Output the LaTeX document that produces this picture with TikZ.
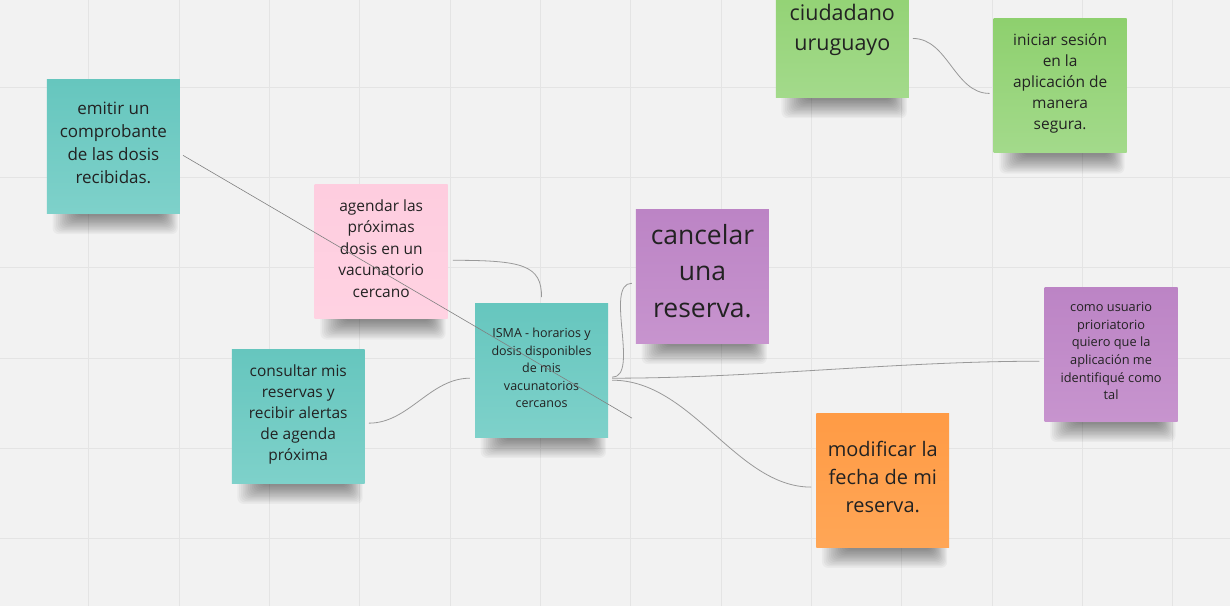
\documentclass[tikz,border=0pt]{standalone}
\usepackage{fontspec}
\setmainfont{Open Sans}
\usetikzlibrary{calc}
\pgfdeclarelayer{back}
\pgfdeclarelayer{shade}
\pgfsetlayers{back,shade,main}
\definecolor{bg}{HTML}{F2F2F2}
\definecolor{gridc}{HTML}{E4E4E4}
\definecolor{tealA}{HTML}{66C6BE}
\definecolor{tealB}{HTML}{7ED1CA}
\definecolor{pinkA}{HTML}{FECDDF}
\definecolor{pinkB}{HTML}{FFD2E2}
\definecolor{purA}{HTML}{BC84C5}
\definecolor{purB}{HTML}{C794CE}
\definecolor{orA}{HTML}{FF9B45}
\definecolor{orB}{HTML}{FFA656}
\definecolor{grA}{HTML}{8ED06E}
\definecolor{grB}{HTML}{A3DA8B}
\definecolor{ink}{HTML}{222222}
\definecolor{wire}{HTML}{999999}
\newcommand{\notetext}[2][4pt]{\raisebox{#1}[\height][\depth]{\begin{tabular}{@{}c@{}}#2\end{tabular}}}
\tikzset{
  note/.style={minimum width=133pt, minimum height=134pt, inner sep=0pt, align=center, text=ink},
  teal/.style={note, top color=tealA, bottom color=tealB},
  pink/.style={note, top color=pinkA, bottom color=pinkB},
  purple/.style={note, top color=purA, bottom color=purB},
  orange/.style={note, top color=orA, bottom color=orB},
  green/.style={note, top color=grA, bottom color=grB},
  wireline/.style={draw=wire, line width=0.8pt},
  shadelayer/.style={fill=black, opacity=0.035, rounded corners=6pt},
}
\begin{document}
\begin{tikzpicture}[x=1pt,y=-1pt]
\begin{pgfonlayer}{back}
\fill[bg] (0,0) rectangle (1230,606);
\foreach \k in {0,...,12} {\draw[gridc, line width=1pt] ({88.5+90.4*\k},0) -- ({88.5+90.4*\k},606);}
\foreach \k in {0,...,5} {\draw[gridc, line width=1pt] (0,{87+90.3*\k}) -- (1230,{87+90.3*\k});}
\end{pgfonlayer}
\useasboundingbox (0,0) rectangle (1230,606);
% notes
\node[teal, font=\fontsize{17}{23}\selectfont] (emitir) at (113,146) {\notetext[2pt]{emitir un\\comprobante\\de las dosis\\recibidas.}};
\node[pink, font=\fontsize{15.5}{21.5}\selectfont] (agendar) at (381,251.5) {\notetext[2pt]{agendar las\\próximas\\dosis en un\\vacunatorio\\cercano}};
\node[teal, font=\fontsize{12.5}{17.6}\selectfont] (isma) at (541.5,370) {\notetext[1pt]{ISMA - horarios y\\dosis disponibles\\de mis\\vacunatorios\\cercanos}};
\node[purple, font=\fontsize{26.5}{36.5}\selectfont] (cancelar) at (702.5,276) {\notetext[3pt]{cancelar\\una\\reserva.}};
\node[teal, font=\fontsize{15.5}{21}\selectfont] (consultar) at (298,416) {\notetext[2pt]{consultar mis\\reservas y\\recibir alertas\\de agenda\\próxima}};
\node[orange, font=\fontsize{20}{28}\selectfont] (modificar) at (883,480) {\notetext[1pt]{modificar la\\fecha de mi\\reserva.}};
\node[purple, font=\fontsize{12.8}{17.6}\selectfont] (como) at (1111.5,354) {\notetext[2pt]{como usuario\\prioriatorio\\quiero que la\\aplicación me\\identifiqué como\\tal}};
\node[green, font=\fontsize{21.5}{30}\selectfont] (ciudadano) at (842.5,30) {\notetext[1pt]{ciudadano\\uruguayo}};
\node[green, font=\fontsize{15.5}{21}\selectfont] (iniciar) at (1060.5,85.5) {\notetext[3pt]{iniciar sesión\\en la\\aplicación de\\manera\\segura.}};
% shadows
\begin{pgfonlayer}{shade}
\foreach \n in {emitir,agendar,isma,cancelar,consultar,modificar,como,ciudadano,iniciar} {
  \foreach \i in {1,...,14} {
    \fill[shadelayer] ($(\n.south west)+({4+1.8*\i},-8)$) rectangle ($(\n.south east)+({-1-1.2*\i},{22-1.4*\i})$);
  }
}
\end{pgfonlayer}
% connectors
\coordinate (aend) at (632,418);
\draw[wireline, line width=0.6pt, draw=gray] ($(emitir.east)+(3,9)$) -- (aend);
\draw[wireline] ($(agendar.east)+(5,8.5)$) .. controls +(70,0) and +(0,-32) .. ($(isma.north)+(0,-6)$);
\draw[wireline] ($(consultar.east)+(4,7)$) .. controls +(40,0) and +(-40,0) .. ($(isma.west)+(-5,8)$);
\draw[wireline] ($(isma.east)+(4,7)$) .. controls +(28,0) and +(-28,0) .. ($(cancelar.west)+(-4,7)$);
\draw[wireline] ($(isma.east)+(4,8)$) .. controls +(143,0) and +(-143,0) .. ($(como.west)+(-5,7)$);
\draw[wireline] ($(isma.east)+(4,10)$) .. controls +(80,0) and +(-75,0) .. ($(modificar.west)+(-5,7)$);
\draw[wireline] ($(ciudadano.east)+(4,8)$) .. controls +(35,0) and +(-35,0) .. ($(iniciar.west)+(-4,7.5)$);
\end{tikzpicture}
\end{document}
